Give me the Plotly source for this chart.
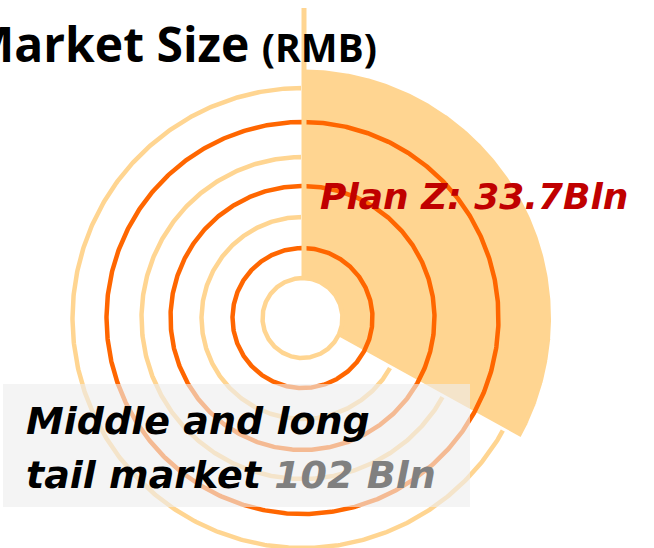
import numpy as np
import plotly.graph_objects as go

# ---- data ----
plan_z_value = 33.7          # Bln RMB
middle_long_value = 102      # Bln RMB
title_main = "Market Size"
title_unit = "(RMB)"
plan_label = "Plan Z: 33.7Bln"
tail_label_1 = "Middle and long"
tail_label_2 = "tail market"
tail_value_label = "102 Bln"

# decorative ring radii (px units)
light_rings = [101, 161, 230]
inner_ring = 40
dark_rings = [70, 132, 196]
wedge_radius = 250

LIGHT = "#FFD591"
DARK = "#FF6600"

W, H = 654, 548
CX, CY = 302.5, 318  # pixel position of ring centre

def px(x):
    return x - CX

def py(y):
    return CY - y

fig = go.Figure()
th = np.linspace(0, 2 * np.pi, 721)

def ring(r, color, width, fill=None):
    return go.Scatter(
        x=r * np.sin(th), y=r * np.cos(th), mode="lines",
        line=dict(color=color, width=width),
        fill="toself" if fill else None, fillcolor=fill,
        hoverinfo="skip", showlegend=False)

for r in light_rings:
    fig.add_trace(ring(r, LIGHT, 4.5))

# wedge: Plan Z share relative to the middle/long tail market
angle = plan_z_value / middle_long_value * 2 * np.pi
ta = np.linspace(0, angle, 200)
wx = np.concatenate([[0], wedge_radius * np.sin(ta), [0]])
wy = np.concatenate([[0], wedge_radius * np.cos(ta), [0]])
fig.add_trace(go.Scatter(x=wx, y=wy, mode="lines", fill="toself",
                         fillcolor=LIGHT, line=dict(color="white", width=3),
                         hoverinfo="skip", showlegend=False))

fig.add_trace(ring(inner_ring, LIGHT, 4.5, fill="white"))
for r in dark_rings:
    fig.add_trace(ring(r, DARK, 4.5))

# vertical axis line
fig.add_trace(go.Scatter(x=[1.5, 1.5], y=[inner_ring, py(8)], mode="lines",
                         line=dict(color=LIGHT, width=5),
                         hoverinfo="skip", showlegend=False))

# text box
fig.add_shape(type="rect", x0=px(3), x1=px(470), y0=py(384), y1=py(507),
              xref="x", yref="y", fillcolor="rgba(238,238,238,0.62)",
              line=dict(width=0), layer="above")

FONT = "Open Sans"
IFONT = "DejaVu Sans"
fig.add_annotation(
    x=px(379), y=py(78), xref="x", yref="y", xanchor="right", yanchor="bottom",
    text=f"<b>{title_main} <span style='font-size:39px'>{title_unit}</span></b>",
    showarrow=False, font=dict(family=FONT, size=48, color="black"))

fig.add_annotation(
    x=px(318), y=py(219), xref="x", yref="y", xanchor="left", yanchor="bottom",
    text=f"<b><i>{plan_label}</i></b>",
    showarrow=False, font=dict(family=IFONT, size=36, color="#C00000"))

fig.add_annotation(
    x=px(24), y=py(445), xref="x", yref="y", xanchor="left", yanchor="bottom",
    text=f"<b><i>{tail_label_1}</i></b>",
    align="left", showarrow=False, font=dict(family=IFONT, size=38, color="black"))

fig.add_annotation(
    x=px(24), y=py(499), xref="x", yref="y", xanchor="left", yanchor="bottom",
    text=f"<b><i>{tail_label_2} <span style='color:#808080'>{tail_value_label}</span></i></b>",
    align="left", showarrow=False, font=dict(family=IFONT, size=38, color="black"))

fig.update_layout(
    width=W, height=H, margin=dict(l=0, r=0, t=0, b=0),
    paper_bgcolor="white", plot_bgcolor="white", showlegend=False,
    xaxis=dict(range=[px(0), px(W)], visible=False, fixedrange=True),
    yaxis=dict(range=[py(H), py(0)], visible=False, fixedrange=True),
)

fig.write_html("out.html")
